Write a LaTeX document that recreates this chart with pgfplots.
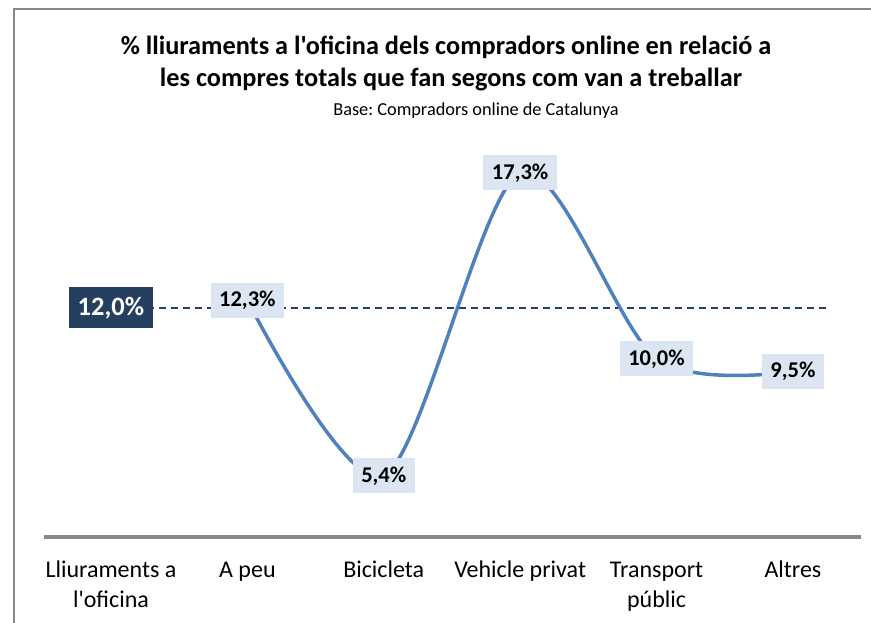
\documentclass[border=0pt]{standalone}
\usepackage{pgfplots}
\pgfplotsset{compat=1.18}
\usepackage{fontspec}
\setmainfont{Carlito}[Ligatures=TeXOff]
\definecolor{linia}{HTML}{4F81BD}
\definecolor{mari}{HTML}{243F60}
\definecolor{caixa}{HTML}{DCE6F2}
\definecolor{marc}{HTML}{878787}
\frenchspacing
\begin{document}
\begin{tikzpicture}[x=1pt,y=1pt]
\path[use as bounding box] (0,0) rectangle (871,623);
\draw[marc, line width=2.2pt] (14,0) -- (14,614) -- (872,614);
% titol
\node[font=\bfseries\fontsize{26.3}{29}\selectfont, anchor=base] at (446,568) {\% lliuraments a l'oficina dels compradors online en relació a};
\node[font=\bfseries\fontsize{26.3}{29}\selectfont, anchor=base] at (451,536) {les compres totals que fan segons com van a treballar};
\node[font=\fontsize{18.3}{21}\selectfont, anchor=base] at (476,507) {Base: Compradors online de Catalunya};
\begin{axis}[
    at={(44pt,86pt)}, anchor=south west,
    scale only axis, width=817pt, height=432.8pt,
    xmin=-0.491, xmax=5.499,
    ymin=3, ymax=20,
    axis x line=bottom, axis y line=none,
    x axis line style={-, marc, line width=4pt},
    xtick={0,...,5},
    xticklabels={{Lliuraments a\\l'oficina}, {A peu\\\strut}, {Bicicleta\\\strut}, {Vehicle privat\\\strut}, {Transport\\públic}, {Altres\\\strut}},
    xticklabel style={font=\fontsize{24}{30}\selectfont, align=center, anchor=base, yshift=-71pt},
    major tick length=0pt,
    ytick=\empty,
    clip=false,
    nodes near coords={\pgfmathprintnumber[fixed, fixed zerofill, precision=1, use comma, assume math mode=true]{\pgfplotspointmeta}\%},
    point meta=y,
    ]
    % linia de referencia
    \addplot[mari, line width=1.3pt, dash pattern=on 7pt off 5pt, nodes near coords=\empty] coordinates {(0,12.0) (5.25,12.0)};
    % valor de lliuraments a l'oficina
    \addplot[draw=none, mark=none,
        every node near coord/.append style={anchor=center, fill=mari, text=white,
            font=\bfseries\fontsize{26.5}{29}\selectfont, minimum height=41pt, inner xsep=9pt}]
        coordinates {(0,12.0)};
    % resta de categories
    \addplot[linia, line width=3.5pt, smooth, mark=none,
        every node near coord/.append style={anchor=center, fill=caixa, text=black,
            font=\bfseries\fontsize{22.5}{25}\selectfont, minimum height=35pt, inner xsep=8.5pt}]
        coordinates {(1,12.3) (2,5.4) (3,17.3) (4,10.0) (5,9.5)};
\end{axis}
\end{tikzpicture}
\end{document}
